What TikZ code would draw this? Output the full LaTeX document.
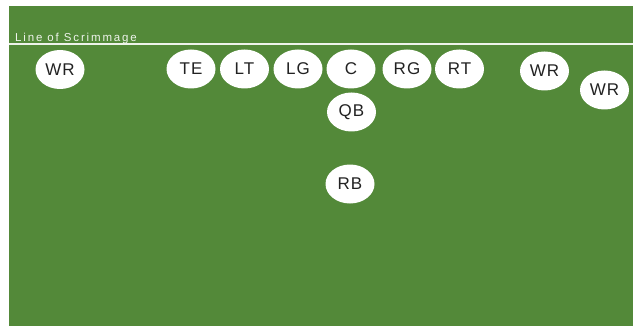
\documentclass[tikz,border=0pt]{standalone}
\usetikzlibrary{shapes.geometric}
\usepackage{fontspec}
\setmainfont{Liberation Sans}
\usepackage{xcolor}
\definecolor{fieldgreen}{RGB}{83,137,57}
\definecolor{labelgray}{RGB}{34,34,34}

\begin{document}
\begin{tikzpicture}[x=1pt, y=-1pt]
        \tikzstyle{player}=[ellipse, draw=none, fill=white, minimum width=49pt, minimum height=39pt, inner sep=0pt, text=labelgray, font=\fontsize{17}{20}\selectfont\addfontfeature{LetterSpace=6}]

        \useasboundingbox (0,0) rectangle (634,326);

        % 球场
        \fill[fieldgreen] (9,6) rectangle (633,326);

        % 争球线
        \coordinate (los-l) at (9,44);
        \coordinate (los-r) at (633,44);
        \draw[white!90!fieldgreen, line width=1.2pt] (los-l) -- (los-r);
        \node[anchor=base west, inner sep=0pt, text=white!90!fieldgreen, font=\fontsize{11.5}{13}\selectfont\addfontfeature{LetterSpace=16}] (los) at (15,42) {Line of Scrimmage};

        % 锋线球员
        \foreach \name/\lbl/\x in {te/TE/191, lt/LT/244.5, lg/LG/298, c/C/351, rg/RG/407, rt/RT/459.5} {
            \node[player] (\name) at (\x,69) {\lbl};
        }

        % 外接手
        \node[player] (wra) at (60,69.5) {WR};
        \node[player] (wrb) at (544.5,71) {WR};
        \node[player] (wrc) at (604.5,90) {WR};

        % 后场
        \node[player] (qb) at (351.5,112) {QB};
        \node[player] (rb) at (350,184) {RB};
    \end{tikzpicture}
\end{document}
